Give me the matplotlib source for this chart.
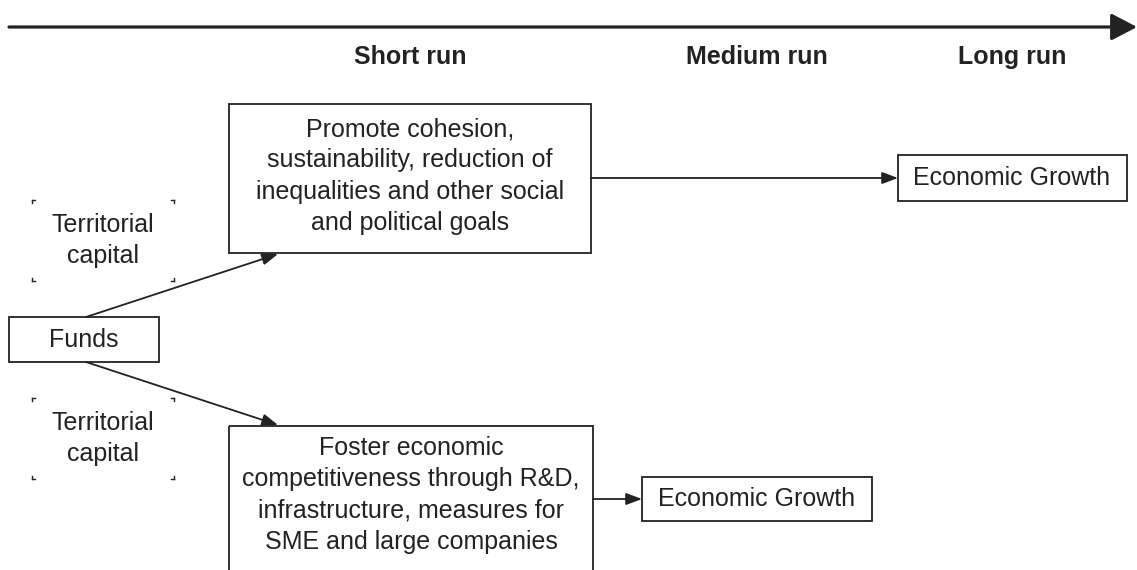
import matplotlib
matplotlib.use("Agg")
import matplotlib.pyplot as plt
from matplotlib.patches import Rectangle, FancyArrowPatch

plt.rcParams['font.family'] = ['Liberation Sans', 'DejaVu Sans']

# labels of the diagram
horizons = ["Short run", "Medium run", "Long run"]
source_label = "Funds"
context_label = "Territorial\ncapital"
goal_labels = [
    "Promote cohesion,\nsustainability, reduction of\ninequalities and other social\nand political goals",
    "Foster economic\ncompetitiveness through R&D,\ninfrastructure, measures for\nSME and large companies",
]
outcome_label = "Economic Growth"

ink = "#222222"
fs = 18
lsp = 1.38

fig = plt.figure(figsize=(11.37, 5.70), dpi=100)
ax = fig.add_axes([0, 0, 1, 1])
ax.set_xlim(0, 1137)
ax.set_ylim(570, 0)
ax.axis("off")

# time axis
ax.annotate("", xy=(1137, 27), xytext=(9, 27),
            arrowprops=dict(arrowstyle="-|>,head_length=1.05,head_width=0.55",
                            lw=2.3, color=ink, mutation_scale=15, shrinkA=0, shrinkB=0))
for x, h in zip([410, 757, 1012], horizons):
    ax.text(x, 57, h, ha="center", va="center", fontsize=fs, fontweight="bold", color=ink)


def box(x0, y0, x1, y1):
    ax.add_patch(Rectangle((x0, y0), x1 - x0, y1 - y0, fill=False, ec=ink, lw=1.3))


def arrow(p0, p1):
    ax.add_patch(FancyArrowPatch(p0, p1, arrowstyle="-|>,head_length=0.8,head_width=0.3",
                                 mutation_scale=12, lw=1.3, color=ink,
                                 shrinkA=0, shrinkB=0))


# funds
box(9, 317, 159, 362)
ax.text(84, 340, source_label, ha="center", va="center", fontsize=fs, color=ink)

# territorial capital (corner marks only)
for y0, y1 in [(200, 281), (398, 479)]:
    x0, x1 = 32, 174
    k = 3
    for cx, cy, dx, dy in [(x0, y0, 1, 1), (x1, y0, -1, 1), (x0, y1, 1, -1), (x1, y1, -1, -1)]:
        ax.plot([cx, cx + dx * k], [cy, cy], color=ink, lw=1)
        ax.plot([cx, cx], [cy, cy + dy * k], color=ink, lw=1)
    ax.text(103, (y0 + y1) / 2, context_label, ha="center", va="center",
            fontsize=fs, color=ink, linespacing=lsp)

# goals
box(229, 104, 591, 253)
ax.text(410, 176, goal_labels[0], ha="center", va="center", fontsize=fs,
        color=ink, linespacing=lsp)
box(229, 426, 593, 600)
ax.text(411, 495, goal_labels[1], ha="center", va="center", fontsize=fs,
        color=ink, linespacing=lsp)

arrow((86, 317), (278, 254))
arrow((86, 362), (278, 425))

# outcomes
box(898, 155, 1127, 201)
ax.text(1012, 178, outcome_label, ha="center", va="center", fontsize=fs, color=ink)
arrow((591, 178), (898, 178))

box(642, 477, 872, 521)
ax.text(757, 499, outcome_label, ha="center", va="center", fontsize=fs, color=ink)
arrow((593, 499), (642, 499))

fig.savefig("out.png", dpi=100)
